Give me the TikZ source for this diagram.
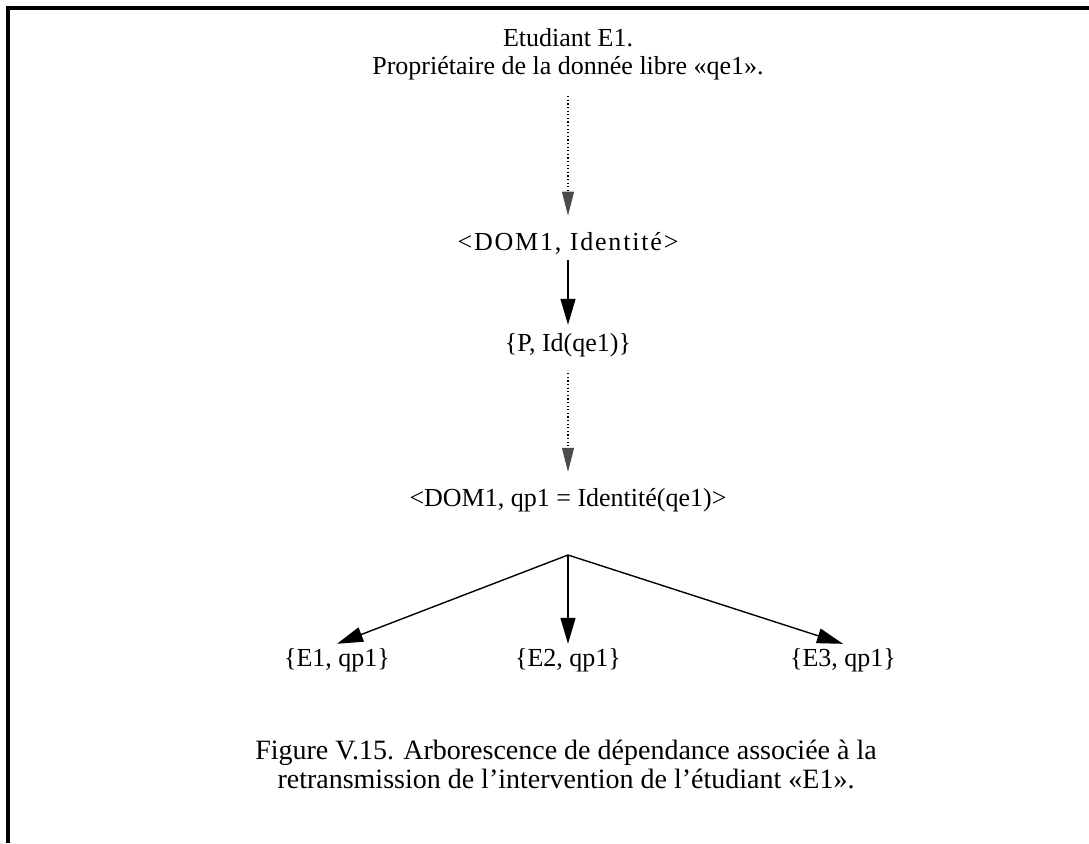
\documentclass[tikz,border=0pt]{standalone}
\usepackage{fontspec}
\setmainfont{Liberation Serif}
\usetikzlibrary{arrows.meta}
\tikzset{
  txt/.style={font=\fontsize{13}{14}\selectfont, align=center, inner sep=2pt},
  solidarr/.style={line width=0.7pt, -{Triangle[length=13pt,width=7.5pt]}},
  dotarr/.style={line width=0.6pt, dash pattern=on 0.6pt off 1.2pt,
    -{Triangle[length=12pt,width=6pt,color=black!70]}},
}
\begin{document}
\begin{tikzpicture}[x=0.5pt,y=-0.5pt]
  \useasboundingbox (0,0) rectangle (1089,843);
  % Frame (left and top only)
  \draw[line width=1.6pt] (8,843) -- (8,8) -- (1089,8);
  % Nodes
  \node[txt] (etu) at (568,54) {Etudiant E1.\\Propriétaire de la donnée libre «qe1».};
  \node[txt] (dom) at (568,243) {\addfontfeature{LetterSpace=7}<DOM1, Identité>};
  \node[txt] (pid) at (568,345) {\{P, Id(qe1)\}};
  \node[txt] (domqp) at (568,500) {<DOM1, qp1 = Identité(qe1)>};
  \coordinate (fork) at (568,555);
  \node[txt] (e1) at (337,660) {\{E1, qp1\}};
  \node[txt] (e2) at (568,660) {\{E2, qp1\}};
  \node[txt] (e3) at (843,660) {\{E3, qp1\}};
  % Caption
  \node[txt, font=\fontsize{14}{14.5}\selectfont] (cap) at (566,764)
    {Figure V.15. Arborescence de dépendance associée à la\\
     retransmission de l'intervention de l'étudiant «E1».};
  % Connectors
  \draw[dotarr, shorten <=6pt, shorten >=6pt] (etu.south) -- (dom.north);
  \draw[solidarr, shorten <=1pt, shorten >=2pt] (dom.south) -- (pid.north);
  \draw[dotarr, shorten <=6pt, shorten >=6pt] (pid.south) -- (domqp.north);
  \draw[solidarr] (fork) -- (e1.north);
  \draw[solidarr] (fork) -- (e2.north);
  \draw[solidarr] (fork) -- (e3.north);
\end{tikzpicture}
\end{document}
